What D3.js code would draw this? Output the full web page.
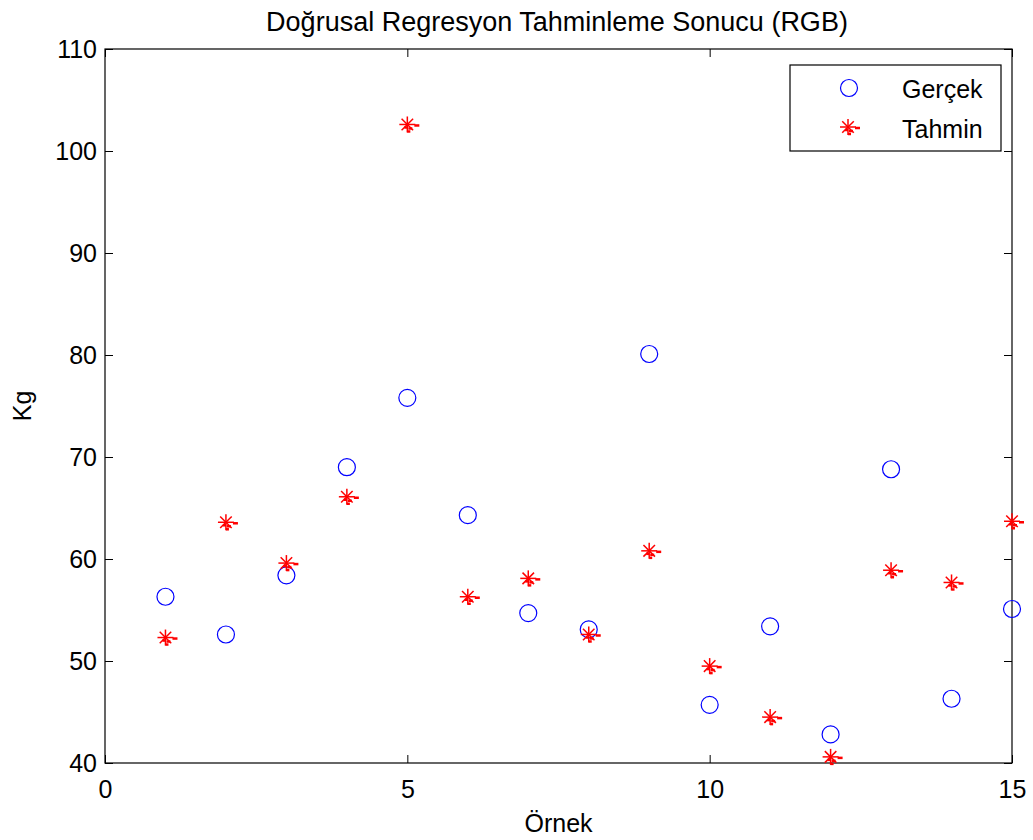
<!DOCTYPE html>
<html>
<head>
<meta charset="utf-8">
<script src="https://cdn.jsdelivr.net/npm/d3@7"></script>
<style>
  body { margin: 0; background: #fff; }
  text { font-family: "Liberation Sans", Arial, sans-serif; fill: #000; }
</style>
</head>
<body>
<div id="chart"></div>
<script>
// data
var samples = [1, 2, 3, 4, 5, 6, 7, 8, 9, 10, 11, 12, 13, 14, 15];
var gercek = [56.3, 52.6, 58.4, 69.0, 75.8, 64.3, 54.7, 53.1, 80.1, 45.7, 53.4, 42.8, 68.8, 46.3, 55.1];
var tahmin = [52.3, 63.6, 59.6, 66.1, 102.6, 56.3, 58.1, 52.6, 60.8, 49.5, 44.5, 40.6, 58.9, 57.7, 63.7];
var xTicks = [0, 5, 10, 15];
var yTicks = [40, 50, 60, 70, 80, 90, 100, 110];
var seriesNames = ["Gerçek", "Tahmin"];

var width = 1033, height = 840;
var margin = { top: 49, right: 21, bottom: 77, left: 105 };
var plotW = width - margin.left - margin.right;
var plotH = height - margin.top - margin.bottom;

var svg = d3.select("#chart")
    .append("svg")
    .attr("width", width)
    .attr("height", height);

var g = svg.append("g")
    .attr("transform", "translate(" + margin.left + "," + margin.top + ")");

var x = d3.scaleLinear().domain([0, 15]).range([0, plotW]);
var y = d3.scaleLinear().domain([40, 110]).range([plotH, 0]);

// axes, ticks pointing inward like matlab
var tickLen = 8;
g.append("g").attr("transform", "translate(0," + plotH + ")")
    .call(d3.axisBottom(x).tickValues(xTicks).tickSizeInner(-tickLen).tickSizeOuter(0).tickPadding(17));
g.append("g")
    .call(d3.axisTop(x).tickValues(xTicks).tickSizeInner(-tickLen).tickSizeOuter(0).tickFormat(""));
g.append("g")
    .call(d3.axisLeft(y).tickValues(yTicks).tickSizeInner(-tickLen).tickSizeOuter(0).tickPadding(8));
g.append("g").attr("transform", "translate(" + plotW + ",0)")
    .call(d3.axisRight(y).tickValues(yTicks).tickSizeInner(-tickLen).tickSizeOuter(0).tickFormat(""));

g.selectAll(".domain").remove();
g.selectAll(".tick line").attr("stroke", "#000");
g.selectAll(".tick text")
    .style("font-size", "25px")
    .style("font-family", "'Liberation Sans', Arial, sans-serif");

// box around the plot
g.append("rect")
    .attr("width", plotW)
    .attr("height", plotH)
    .attr("fill", "none")
    .attr("stroke", "#000")
    .attr("stroke-width", 1.2);

// asterisk marker
function asterisk(sel, r) {
    var a = r * 0.72;
    sel.append("line").attr("x1", -r).attr("x2", r).attr("y1", 0).attr("y2", 0);
    sel.append("line").attr("x1", 0).attr("x2", 0).attr("y1", -r).attr("y2", r);
    sel.append("line").attr("x1", -a).attr("x2", a).attr("y1", -a).attr("y2", a);
    sel.append("line").attr("x1", -a).attr("x2", a).attr("y1", a).attr("y2", -a);
    // little dashes matlab leaves behind
    sel.append("line").attr("x1", r - 1).attr("x2", r + 4).attr("y1", 1).attr("y2", 1).attr("stroke-width", 2.5);
    sel.append("line").attr("x1", 1).attr("x2", 5).attr("y1", 4).attr("y2", 4).attr("stroke-width", 2.5);
    sel.append("line").attr("x1", -3).attr("x2", 0).attr("y1", 3).attr("y2", 3).attr("stroke-width", 2.5);
    sel.append("line").attr("x1", 0).attr("x2", 3).attr("y1", 7).attr("y2", 7).attr("stroke-width", 2.5);
}

// gercek - blue circles
g.append("g").selectAll("circle")
    .data(samples)
    .enter().append("circle")
    .attr("cx", function(d) { return x(d); })
    .attr("cy", function(d, i) { return y(gercek[i]); })
    .attr("r", 8.5)
    .attr("fill", "none")
    .attr("stroke", "#0000ff")
    .attr("stroke-width", 1.2);

// tahmin - red stars
g.append("g").selectAll("g")
    .data(samples)
    .enter().append("g")
    .attr("transform", function(d, i) { return "translate(" + x(d) + "," + y(tahmin[i]) + ")"; })
    .attr("stroke", "#ff0000")
    .attr("stroke-width", 1.5)
    .each(function() { asterisk(d3.select(this), 8); });

// title and labels
svg.append("text")
    .attr("x", 557)
    .attr("y", 31)
    .attr("text-anchor", "middle")
    .style("font-size", "27px")
    .text("Doğrusal Regresyon Tahminleme Sonucu (RGB)");

svg.append("text")
    .attr("x", margin.left + plotW / 2)
    .attr("y", 832)
    .attr("text-anchor", "middle")
    .style("font-size", "25px")
    .text("Örnek");

svg.append("text")
    .attr("transform", "translate(31," + (margin.top + plotH / 2) + ") rotate(-90)")
    .attr("text-anchor", "middle")
    .style("font-size", "25px")
    .text("Kg");

// legend
var leg = svg.append("g").attr("transform", "translate(790,65)");
leg.append("rect")
    .attr("width", 211)
    .attr("height", 86)
    .attr("fill", "#fff")
    .attr("stroke", "#000")
    .attr("stroke-width", 1.2);
leg.append("circle")
    .attr("cx", 59).attr("cy", 23).attr("r", 8.5)
    .attr("fill", "none").attr("stroke", "#0000ff").attr("stroke-width", 1.2);
leg.append("g")
    .attr("transform", "translate(58,62)")
    .attr("stroke", "#ff0000")
    .attr("stroke-width", 1.5)
    .call(asterisk, 8);
leg.selectAll("text.lab")
    .data(seriesNames)
    .enter().append("text")
    .attr("class", "lab")
    .attr("x", 112)
    .attr("y", function(d, i) { return 33 + i * 40; })
    .style("font-size", "25px")
    .text(function(d) { return d; });
</script>
</body>
</html>
